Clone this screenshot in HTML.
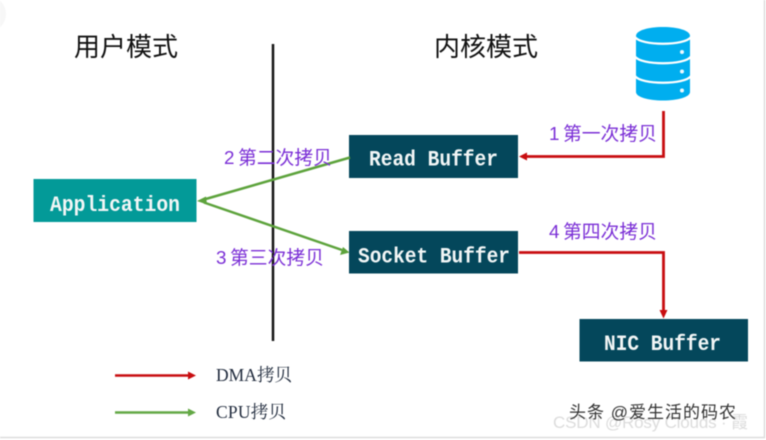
<!DOCTYPE html>
<html><head><meta charset="utf-8"><style>
html,body{margin:0;padding:0;background:#fff;width:766px;height:440px;overflow:hidden}
svg{display:block;filter:blur(0.4px)}
.t{font-family:"Liberation Sans","Noto Sans CJK SC",sans-serif;font-size:26px;fill:#111}
.m{font-family:"Liberation Mono",monospace;font-weight:bold;font-size:22px;fill:#f2f6f6}
.p{font-family:"Liberation Sans","Noto Sans CJK SC",sans-serif;font-size:18.800px;fill:#7b2fd6}
.l{font-family:"Liberation Serif","Noto Serif CJK SC",serif;font-size:17.500px;fill:#1f2a3c}
</style></head><body>
<svg width="766" height="440" viewBox="0 0 766 440" xmlns="http://www.w3.org/2000/svg">
<rect width="766" height="440" fill="#fff"/>
<circle cx="-12" cy="14" r="18" fill="#f7f7f7"/>
<path d="M764.500 0V437.500H0" fill="none" stroke="#dddddd" stroke-width="1.500"/>
<text class="t" x="74" y="56">用户模式</text>
<text class="t" x="434" y="56">内核模式</text>
<line x1="273" y1="44" x2="273" y2="341" stroke="#151515" stroke-width="2.500"/>

<rect x="33.500" y="179" width="163" height="43" fill="#039a98"/>
<rect x="349" y="135" width="169" height="43" fill="#04475b"/>
<rect x="349" y="231" width="169" height="42.500" fill="#04475b"/>
<rect x="579.500" y="319" width="168.500" height="42.500" fill="#04475b"/>
<text class="m" x="50" y="211" textLength="130" lengthAdjust="spacingAndGlyphs">Application</text>
<text class="m" x="369" y="165.500" textLength="129" lengthAdjust="spacingAndGlyphs">Read Buffer</text>
<text class="m" x="358" y="262.500" textLength="152" lengthAdjust="spacingAndGlyphs">Socket Buffer</text>
<text class="m" x="604" y="350" textLength="117" lengthAdjust="spacingAndGlyphs">NIC Buffer</text>

<!-- database -->
<path d="M636 36C636 30.500 648 27 663 27S690 30.500 690 36V92C690 97 678 100.500 663 100.500S636 97 636 92Z" fill="#00aeef"/>
<g fill="none" stroke="#fff" stroke-width="2.200">
<path d="M635 37C641 46 685 46 691 37"/>
<path d="M635 56.500C641 65.500 685 65.500 691 56.500"/>
<path d="M635 76C641 85 685 85 691 76"/>
</g>
<g fill="#eef9fe"><circle cx="682" cy="52" r="2"/><circle cx="682" cy="71.500" r="2"/><circle cx="682" cy="90.500" r="2"/></g>

<!-- red connectors -->
<path d="M663.500 111V156.500H526" fill="none" stroke="#c80d10" stroke-width="2.800"/>
<path d="M519 156.500L527 152.500V160.500Z" fill="#c80d10"/>
<path d="M519 252.500H663.500V312" fill="none" stroke="#c80d10" stroke-width="2.800"/>
<path d="M663.500 318.500L659.500 310H667.500Z" fill="#c80d10"/>

<!-- green connectors -->
<path d="M350 157.500L204 199.500M204 202.500L342 250" fill="none" stroke="#5da33c" stroke-width="2.500"/>
<path d="M197 201L206 196.500L207 204.500Z" fill="#5da33c"/>
<path d="M349.500 252.500L340 255L343 247Z" fill="#5da33c"/>

<text class="p" x="224" y="164">2</text><text class="p" x="238" y="164">第二次拷贝</text>
<text class="p" x="216" y="264">3</text><text class="p" x="230" y="264">第三次拷贝</text>
<text class="p" x="549" y="140">1</text><text class="p" x="563" y="140">第一次拷贝</text>
<text class="p" x="549" y="238">4</text><text class="p" x="563" y="238">第四次拷贝</text>

<!-- legend -->
<line x1="115" y1="375.500" x2="190" y2="375.500" stroke="#c80d10" stroke-width="2.400"/>
<path d="M196 375.500L188 371.500V379.500Z" fill="#c80d10"/>
<line x1="115" y1="412.500" x2="190" y2="412.500" stroke="#63a845" stroke-width="2.400"/>
<path d="M196 412.500L188 408.500V416.500Z" fill="#63a845"/>
<text class="l" x="216" y="381" textLength="76">DMA拷贝</text>
<text class="l" x="216" y="418" textLength="70">CPU拷贝</text>

<!-- watermarks -->
<text x="553" y="428" font-family="'Liberation Sans',sans-serif" font-size="17" fill="#dcdcdc" textLength="195">CSDN @Rosy Clouds · 霞</text>
<text x="569" y="418" font-family="'Liberation Sans','Noto Sans CJK SC',sans-serif" font-size="17" fill="#333" textLength="167">头条 @爱生活的码农</text>
</svg>
</body></html>
